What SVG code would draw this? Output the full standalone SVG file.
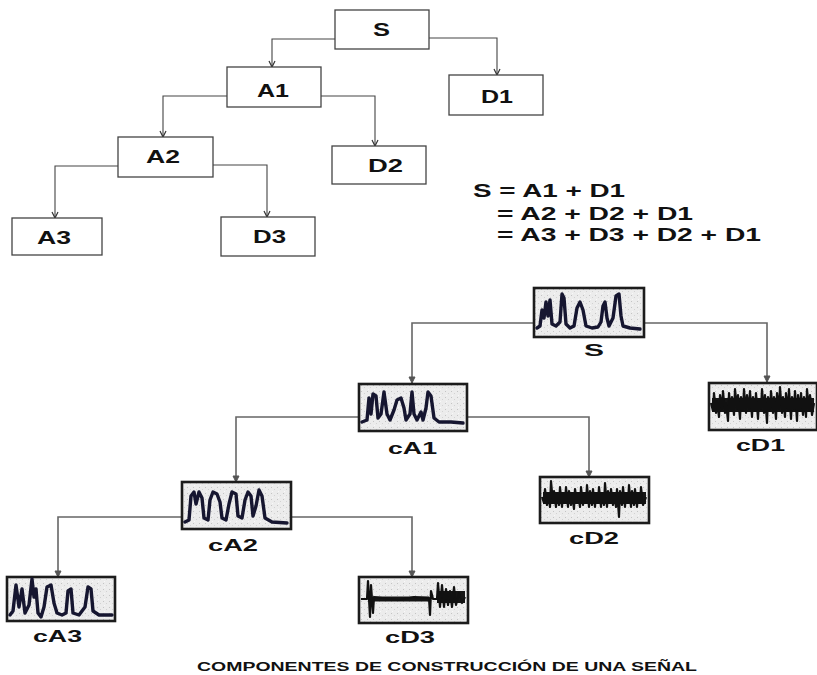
<svg xmlns="http://www.w3.org/2000/svg" width="817" height="675" viewBox="0 0 817 675">
<style>
  .bg{fill:#ffffff}
  .box{fill:#ffffff;stroke:#444;stroke-width:1.3}
  .t{font-family:"Liberation Sans",Arial,sans-serif;font-weight:bold;fill:#111}
  .big{font-size:18px}
  .eq{font-size:17.5px}
  .lab{font-size:17px}
  .cap{font-size:12px}
  .sig{fill:url(#speckle);stroke:#1c1c1c;stroke-width:2.6}
  .wa{fill:none;stroke:#161630;stroke-width:3.4;stroke-linejoin:round;stroke-linecap:round}
  .wd{fill:none;stroke:#111;stroke-width:2.2;stroke-linejoin:round}
  .band{fill:none;stroke:#151515}
  .c1{fill:none;stroke:#444;stroke-width:1.1}
  .c2{fill:none;stroke:#666;stroke-width:1.6}
</style>
<defs>
  <pattern id="speckle" width="6" height="6" patternUnits="userSpaceOnUse">
    <rect width="6" height="6" fill="#ececec"/>
    <rect x="1" y="1" width="1" height="1" fill="#c4c4c4"/>
    <rect x="4" y="3" width="1" height="1" fill="#d2d2d2"/>
    <rect x="2" y="5" width="1" height="1" fill="#f8f8f8"/>
  </pattern>
  <marker id="ah" viewBox="0 0 8 8" refX="7" refY="4" markerWidth="8" markerHeight="8" markerUnits="userSpaceOnUse" orient="auto">
    <path d="M1,1 L7,4 L1,7" fill="none" stroke="#333" stroke-width="1.2"/>
  </marker>
  <marker id="ah2" viewBox="0 0 8 8" refX="7" refY="4" markerWidth="8" markerHeight="8" markerUnits="userSpaceOnUse" orient="auto">
    <path d="M1,1 L7,4 L1,7 Z" fill="#555" stroke="#555" stroke-width="1"/>
  </marker>
</defs>
<rect class="bg" x="0" y="0" width="817" height="675"/>

<g id="connectors">
  <path class="c1" d="M335,39 H272 V67" marker-end="url(#ah)"/>
  <path class="c1" d="M429,38 H497 V75" marker-end="url(#ah)"/>
  <path class="c1" d="M227,96 H163 V137" marker-end="url(#ah)"/>
  <path class="c1" d="M321,96 H375 V146" marker-end="url(#ah)"/>
  <path class="c1" d="M118,166 H55 V218" marker-end="url(#ah)"/>
  <path class="c1" d="M213,165 H267 V217" marker-end="url(#ah)"/>
  <path class="c2" d="M534,323 H412 V383" marker-end="url(#ah2)"/>
  <path class="c2" d="M644,323 H767 V382" marker-end="url(#ah2)"/>
  <path class="c2" d="M359,417 H236 V482" marker-end="url(#ah2)"/>
  <path class="c2" d="M467,417 H589 V477" marker-end="url(#ah2)"/>
  <path class="c2" d="M182,517 H58 V577" marker-end="url(#ah2)"/>
  <path class="c2" d="M291,517 H412 V577" marker-end="url(#ah2)"/>
</g>

<g id="node-S">
  <rect class="box" x="335" y="10" width="94" height="39"/>
  <text class="t big" x="373" y="36" textLength="17" lengthAdjust="spacingAndGlyphs">S</text>
</g>
<g id="node-A1">
  <rect class="box" x="227" y="67" width="94" height="40"/>
  <text class="t big" x="257" y="97" textLength="32" lengthAdjust="spacingAndGlyphs">A1</text>
</g>
<g id="node-D1">
  <rect class="box" x="449" y="75" width="94" height="40"/>
  <text class="t big" x="481" y="103" textLength="32" lengthAdjust="spacingAndGlyphs">D1</text>
</g>
<g id="node-A2">
  <rect class="box" x="118" y="137" width="95" height="40"/>
  <text class="t big" x="146" y="163" textLength="34" lengthAdjust="spacingAndGlyphs">A2</text>
</g>
<g id="node-D2">
  <rect class="box" x="332" y="146" width="94" height="38"/>
  <text class="t big" x="368" y="172" textLength="35" lengthAdjust="spacingAndGlyphs">D2</text>
</g>
<g id="node-A3">
  <rect class="box" x="12" y="218" width="90" height="37"/>
  <text class="t big" x="37" y="244" textLength="34" lengthAdjust="spacingAndGlyphs">A3</text>
</g>
<g id="node-D3">
  <rect class="box" x="221" y="217" width="94" height="39"/>
  <text class="t big" x="253" y="243" textLength="33" lengthAdjust="spacingAndGlyphs">D3</text>
</g>

<g id="equations">
  <text class="t eq" x="473" y="197" textLength="152" lengthAdjust="spacingAndGlyphs">S = A1 + D1</text>
  <text class="t eq" x="497" y="220" textLength="196" lengthAdjust="spacingAndGlyphs">= A2 + D2 + D1</text>
  <text class="t eq" x="497" y="241" textLength="264" lengthAdjust="spacingAndGlyphs">= A3 + D3 + D2 + D1</text>
</g>

<g id="sig-S">
  <rect class="sig" x="534" y="288" width="110" height="49"/>
  <path class="wa" transform="translate(534,288)" d="M3,40 L6,38 L8,22 L10,30 L12,14 L14,28 L16,12 L18,36 L22,38 L26,34 L28,6 L30,10 L32,36 L36,40 L40,38 L43,20 L46,14 L49,22 L52,38 L58,40 L64,39 L67,34 L69,18 L71,14 L73,30 L75,38 L79,30 L82,8 L85,6 L87,28 L89,38 L96,40 L106,41"/>
  <text class="t lab" x="584" y="356" textLength="20" lengthAdjust="spacingAndGlyphs">S</text>
</g>
<g id="sig-cA1">
  <rect class="sig" x="359" y="384" width="108" height="47"/>
  <path class="wa" transform="translate(359,384)" d="M3,38 L8,36 L10,14 L12,30 L14,10 L17,12 L19,34 L22,30 L25,8 L28,30 L31,36 L35,26 L38,16 L42,14 L45,24 L47,36 L51,30 L53,8 L55,30 L58,36 L62,28 L64,36 L67,24 L69,8 L72,12 L75,34 L80,38 L92,38 L104,39"/>
  <text class="t lab" x="388" y="454" textLength="49" lengthAdjust="spacingAndGlyphs">cA1</text>
</g>
<g id="sig-cD1">
  <rect class="sig" x="709" y="383" width="108" height="47"/>
  <g transform="translate(709,383)">
    <path class="band" d="M3,22 H105" style="stroke-width:14"/>
    <path class="wd" d="M2,20 L4,28 L5,10 L7,30 L8,18 L10,34 L11,12 L13,26 L14,8 L16,30 L17,20 L19,38 L20,10 L22,28 L23,14 L25,32 L26,6 L28,26 L29,12 L31,36 L32,14 L34,28 L35,6 L37,30 L38,12 L40,26 L41,8 L43,34 L44,14 L46,28 L47,10 L49,36 L50,16 L52,26 L53,6 L55,30 L56,12 L58,40 L59,14 L61,28 L62,8 L64,30 L65,14 L67,36 L68,10 L70,26 L71,4 L73,30 L74,14 L76,34 L77,10 L79,28 L80,6 L82,36 L83,14 L85,26 L86,8 L88,38 L89,12 L91,28 L92,10 L94,32 L95,14 L97,34 L98,6 L100,28 L101,12 L103,32 L105,20"/>
  </g>
  <text class="t lab" x="736" y="451" textLength="49" lengthAdjust="spacingAndGlyphs">cD1</text>
</g>
<g id="sig-cA2">
  <rect class="sig" x="182" y="482" width="109" height="47"/>
  <path class="wa" transform="translate(182,482)" d="M3,40 L7,38 L9,14 L12,10 L14,22 L17,10 L20,16 L22,36 L26,38 L28,18 L31,10 L35,12 L38,20 L40,36 L44,38 L47,22 L50,10 L54,12 L56,34 L60,36 L63,18 L66,10 L69,14 L71,34 L74,24 L77,8 L80,14 L83,36 L90,40 L105,41"/>
  <text class="t lab" x="208" y="551" textLength="50" lengthAdjust="spacingAndGlyphs">cA2</text>
</g>
<g id="sig-cD2">
  <rect class="sig" x="540" y="477" width="109" height="46"/>
  <g transform="translate(540,477)">
    <path class="band" d="M3,21 H106" style="stroke-width:12"/>
    <path class="wd" d="M2,20 L4,26 L5,12 L7,28 L8,16 L10,30 L11,4 L13,26 L14,14 L16,30 L17,16 L19,28 L20,10 L22,30 L23,16 L25,26 L26,10 L28,30 L29,14 L31,28 L32,16 L34,32 L35,12 L37,26 L38,16 L40,30 L41,10 L43,28 L44,16 L46,26 L47,8 L49,30 L50,14 L52,28 L53,12 L55,30 L56,16 L58,26 L59,10 L61,30 L62,16 L64,28 L65,6 L67,30 L68,14 L70,26 L71,12 L73,28 L74,16 L76,30 L77,12 L79,40 L80,14 L82,28 L83,10 L85,30 L86,16 L88,26 L89,8 L91,30 L92,14 L94,28 L95,12 L97,30 L98,16 L100,26 L101,10 L103,28 L106,20"/>
  </g>
  <text class="t lab" x="569" y="544" textLength="50" lengthAdjust="spacingAndGlyphs">cD2</text>
</g>
<g id="sig-cA3">
  <rect class="sig" x="7" y="577" width="108" height="44"/>
  <path class="wa" transform="translate(7,577)" d="M3,38 L6,34 L9,8 L12,30 L15,12 L18,36 L22,28 L25,2 L27,20 L29,12 L31,36 L34,40 L37,30 L40,10 L44,8 L47,26 L50,36 L55,38 L59,36 L61,14 L64,12 L66,36 L72,38 L78,30 L81,10 L84,12 L86,34 L92,38 L105,38"/>
  <text class="t lab" x="33" y="642" textLength="49" lengthAdjust="spacingAndGlyphs">cA3</text>
</g>
<g id="sig-cD3">
  <rect class="sig" x="359" y="577" width="109" height="46"/>
  <g transform="translate(359,577)">
    <path class="band" d="M14,22 H70" style="stroke-width:5"/>
    <path class="band" d="M78,20 H106" style="stroke-width:12"/>
    <path class="wd" d="M2,22 L8,22 L9,4 L11,40 L12,8 L14,36 L15,20 L40,23 L55,20 L70,21 L71,38 L72,14 L74,22 L78,22 L79,6 L81,30 L83,8 L85,30 L87,12 L89,28 L91,14 L93,30 L95,10 L97,28 L100,16 L103,26 L106,20"/>
  </g>
  <text class="t lab" x="385" y="643" textLength="50" lengthAdjust="spacingAndGlyphs">cD3</text>
</g>

<g id="caption">
  <text class="t cap" x="197" y="671" textLength="500" lengthAdjust="spacingAndGlyphs">COMPONENTES DE CONSTRUCCIÓN DE UNA SEÑAL</text>
</g>
</svg>
